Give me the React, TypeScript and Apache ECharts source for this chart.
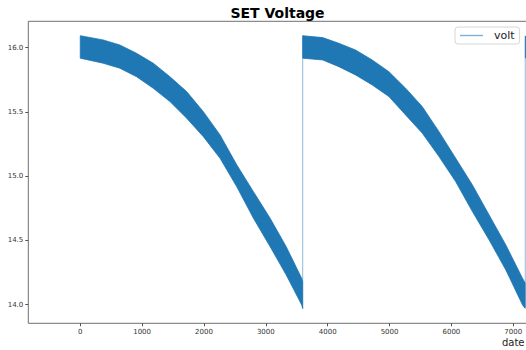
import React, { useEffect, useRef } from "react";
import * as echarts from "echarts";

// Band envelopes (upper / lower edge of the noisy voltage trace)
const cycle1X = [0, 370, 640, 910, 1180, 1450, 1720, 1990, 2260, 2530, 2800, 3070, 3330, 3580, 3595];
const cycle1Upper = [16.093, 16.06, 16.021, 15.956, 15.879, 15.774, 15.658, 15.502, 15.321, 15.088, 14.879, 14.672, 14.451, 14.205, 14.18];
const cycle1Lower = [15.918, 15.879, 15.84, 15.774, 15.684, 15.58, 15.451, 15.307, 15.139, 14.918, 14.672, 14.451, 14.231, 13.998, 13.97];

const cycle2X = [3597, 3920, 4180, 4450, 4720, 4990, 5260, 5530, 5800, 6070, 6340, 6610, 6880, 7150, 7192];
const cycle2Upper = [16.093, 16.078, 16.034, 15.982, 15.904, 15.813, 15.684, 15.541, 15.346, 15.139, 14.932, 14.698, 14.465, 14.205, 14.169];
const cycle2Lower = [15.918, 15.904, 15.852, 15.788, 15.71, 15.619, 15.476, 15.334, 15.152, 14.957, 14.724, 14.504, 14.27, 13.998, 13.972];

const cycle3X = [7196, 7260];
const cycle3Upper = [16.09, 16.085];
const cycle3Lower = [15.92, 15.915];

// Reset jumps (last point of a cycle to first point of next)
const jumpX = [3596, 7194];
const jumpFrom = [13.97, 13.972];
const jumpTo = [16.093, 16.09];

const xTicks = [0, 1000, 2000, 3000, 4000, 5000, 6000, 7000];
const yTicks = [14.0, 14.5, 15.0, 15.5, 16.0];

const bands = [
  { x: cycle1X, upper: cycle1Upper, lower: cycle1Lower },
  { x: cycle2X, upper: cycle2Upper, lower: cycle2Lower },
  { x: cycle3X, upper: cycle3Upper, lower: cycle3Lower },
];

const FONT = "DejaVu Sans";
const BLUE = "#1f77b4";
const LIGHT = "rgba(31,119,180,0.5)";

export default function App() {
  const ref = useRef<HTMLDivElement>(null);
  useEffect(() => {
    if (!ref.current) return;
    const chart = echarts.init(ref.current, undefined, { renderer: "svg" });
    const jumpSeries = jumpX.map((x, i) => ({
      type: "line",
      name: "volt",
      data: [
        [x, jumpFrom[i]],
        [x, jumpTo[i]],
      ],
      symbol: "none",
      lineStyle: { color: LIGHT, width: 1 },
      itemStyle: { color: LIGHT },
      z: 3,
      silent: true,
    }));
    chart.setOption({
      animation: false,
      grid: {
        left: 28.3,
        top: 21.3,
        width: 546.8,
        height: 302,
        show: true,
        borderColor: "#707070",
        borderWidth: 1,
        backgroundColor: "transparent",
      },
      legend: {
        left: 455,
        top: 27,
        data: [{ name: "volt", icon: "rect" }],
        itemWidth: 23,
        itemHeight: 1.4,
        padding: [3, 5, 3, 5],
        borderColor: "#d6d6d6",
        borderWidth: 1,
        borderRadius: 3,
        backgroundColor: "#fff",
        itemStyle: { color: "#7fb0d8", opacity: 1 },
        lineStyle: { width: 0 },
        textStyle: { fontFamily: FONT, fontSize: 11, color: "#222", padding: [0, 0, 0, 6] },
      },
      xAxis: {
        type: "value",
        min: -840,
        max: 8000,
        splitLine: { show: false },
        axisLine: { show: false, onZero: false },
        axisTick: {
          show: true,
          length: 3,
          customValues: xTicks,
          lineStyle: { color: "#555" },
        },
        axisLabel: {
          customValues: xTicks,
          fontFamily: FONT,
          fontSize: 7,
          color: "#333",
          margin: 5,
          formatter: (v: number) => String(v),
        },
      },
      yAxis: {
        type: "value",
        min: 13.855,
        max: 16.205,
        splitLine: { show: false },
        axisLine: { show: false, onZero: false },
        axisTick: {
          show: true,
          length: 3,
          customValues: yTicks,
          lineStyle: { color: "#555" },
        },
        axisLabel: {
          customValues: yTicks,
          fontFamily: FONT,
          fontSize: 7,
          color: "#333",
          margin: 5,
          formatter: (v: number) => v.toFixed(1),
        },
      },
      graphic: [
        {
          type: "text",
          x: 277.5,
          y: 13.3,
          style: {
            text: "SET Voltage",
            font: `bold 14px "${FONT}"`,
            fill: "#000",
            textAlign: "center",
            textVerticalAlign: "middle",
          },
        },
        {
          type: "text",
          x: 524.5,
          y: 342,
          style: {
            text: "date",
            font: `10px "${FONT}"`,
            fill: "#222",
            textAlign: "right",
            textVerticalAlign: "middle",
          },
        },
      ],
      series: [
        {
          type: "custom",
          name: "band",
          clip: true,
          silent: true,
          z: 2,
          data: bands.map((_, i) => [i, 15]),
          encode: { x: 0, y: 1 },
          renderItem: (params: any, api: any) => {
            const b = bands[params.dataIndex];
            const pts: number[][] = [];
            for (let i = 0; i < b.x.length; i++) pts.push(api.coord([b.x[i], b.upper[i]]));
            for (let i = b.x.length - 1; i >= 0; i--) pts.push(api.coord([b.x[i], b.lower[i]]));
            return {
              type: "polygon",
              shape: { points: pts },
              style: { fill: BLUE, stroke: BLUE, lineWidth: 0.8, lineJoin: "round", opacity: 1 },
            };
          },
        },
        ...jumpSeries,
      ],
    });
    return () => chart.dispose();
  }, []);
  return (
    <div
      style={{
        position: "absolute",
        left: 0,
        top: 0,
        width: 526,
        height: 350,
        overflow: "hidden",
        background: "#fff",
      }}
    >
      <div ref={ref} style={{ width: 600, height: 350 }} />
    </div>
  );
}
